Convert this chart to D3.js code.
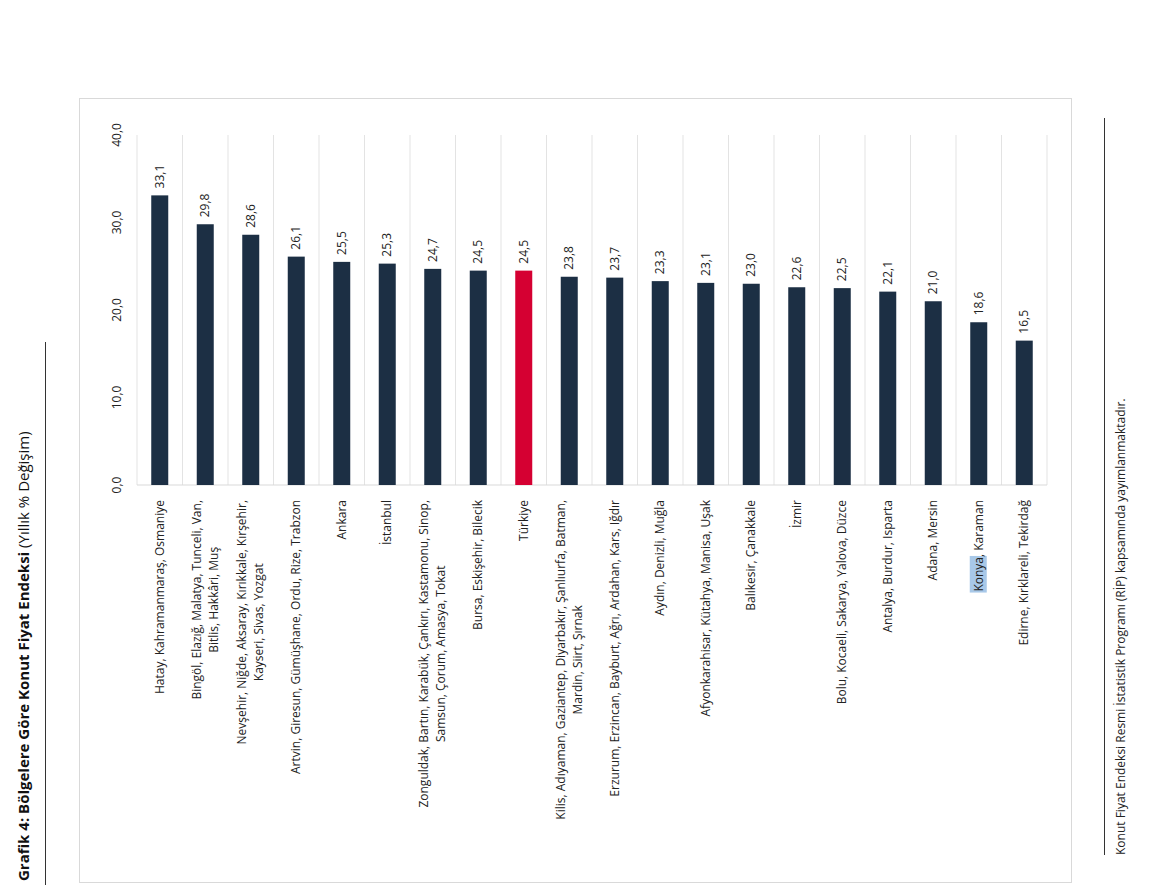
<!DOCTYPE html>
<html lang="tr">
<head>
<meta charset="UTF-8">
<style>
  body { margin: 0; background: #fff; }
  svg { font-family: "Open Sans", sans-serif; }
</style>
</head>
<body>
<script src="https://d3js.org/d3.v7.min.js"></script>
<script>
const regions = [
  ["Hatay, Kahramanmaraş, Osmaniye"],
  ["Bingöl, Elazığ, Malatya, Tunceli, Van,", "Bitlis, Hakkâri, Muş"],
  ["Nevşehir, Niğde, Aksaray, Kırıkkale, Kırşehir,", "Kayseri, Sivas, Yozgat"],
  ["Artvin, Giresun, Gümüşhane, Ordu, Rize, Trabzon"],
  ["Ankara"],
  ["İstanbul"],
  ["Zonguldak, Bartın, Karabük, Çankırı, Kastamonu, Sinop,", "Samsun, Çorum, Amasya, Tokat"],
  ["Bursa, Eskişehir, Bilecik"],
  ["Türkiye"],
  ["Kilis, Adıyaman, Gaziantep, Diyarbakır, Şanlıurfa, Batman,", "Mardin, Siirt, Şırnak"],
  ["Erzurum, Erzincan, Bayburt, Ağrı, Ardahan, Kars, Iğdır"],
  ["Aydın, Denizli, Muğla"],
  ["Afyonkarahisar, Kütahya, Manisa, Uşak"],
  ["Balıkesir, Çanakkale"],
  ["İzmir"],
  ["Bolu, Kocaeli, Sakarya, Yalova, Düzce"],
  ["Antalya, Burdur, Isparta"],
  ["Adana, Mersin"],
  ["Konya, Karaman"],
  ["Edirne, Kırklareli, Tekirdağ"]
];
const values = [33.1, 29.8, 28.6, 26.1, 25.5, 25.3, 24.7, 24.5, 24.5, 23.8, 23.7, 23.3, 23.1, 23.0, 22.6, 22.5, 22.1, 21.0, 18.6, 16.5];
const yTicks = [0, 10, 20, 30, 40];
const title = "Grafik 4: Bölgelere Göre Konut Fiyat Endeksi";
const titleSub = " (Yıllık % Değişim)";
const note = "Konut Fiyat Endeksi Resmi İstatistik Programı (RİP) kapsamında yayımlanmaktadır.";

const W = 1151, H = 889;
const svg = d3.select("body").append("svg").attr("width", W).attr("height", H);
const fmt = v => v.toFixed(1).replace(".", ",");

svg.append("rect").attr("x", 79.5).attr("y", 98.5).attr("width", 992).attr("height", 784)
  .attr("fill", "none").attr("stroke", "#d9d9d9");

const x = d3.scaleBand().domain(d3.range(values.length)).range([137, 1047]).paddingInner(0.62).paddingOuter(0.31);
const y = d3.scaleLinear().domain([0, 40]).range([485, 135]);
const step = x.step();

// vertical gridlines between categories
svg.append("g").selectAll("line").data(d3.range(values.length + 1)).join("line")
  .attr("x1", i => 137 + i * (910 / values.length)).attr("x2", i => 137 + i * (910 / values.length))
  .attr("y1", y(40)).attr("y2", y(0)).attr("stroke", "#e3e3e3");
svg.append("line").attr("x1", 137).attr("x2", 1047).attr("y1", y(0)).attr("y2", y(0)).attr("stroke", "#d9d9d9");

// y tick labels (rotated)
svg.append("g").selectAll("text").data(yTicks).join("text")
  .attr("transform", d => `translate(121,${y(d)}) rotate(-90)`)
  .attr("text-anchor", "middle").attr("font-size", 12).attr("fill", "#222")
  .text(fmt);

const bw = 17;
const cx = i => x(i) + x.bandwidth() / 2;
svg.append("g").selectAll("rect").data(values).join("rect")
  .attr("x", (d, i) => cx(i) - bw / 2).attr("width", bw)
  .attr("y", d => y(d)).attr("height", d => y(0) - y(d))
  .attr("fill", (d, i) => regions[i][0] === "Türkiye" ? "#d50032" : "#1c2f44");

svg.append("g").selectAll("text").data(values).join("text")
  .attr("transform", (d, i) => `translate(${cx(i) + 4},${y(d) - 7}) rotate(-90)`)
  .attr("font-size", 12).attr("fill", "#222").text(fmt);

// category labels
const lab = svg.append("g");
regions.forEach((lines, i) => {
  const g = lab.append("g");
  const texts = lines.map((t, k) => g.append("text").attr("font-size", 12).attr("fill", "#222")
    .attr("text-anchor", "middle").text(t));
  const maxLen = d3.max(texts, t => t.node().getComputedTextLength());
  const off = (lines.length - 1) * 8.5;
  texts.forEach((t, k) => {
    const lx = cx(i) + 4 - off + k * 17;
    t.attr("transform", `translate(${lx},${500 + maxLen / 2}) rotate(-90)`);
  });
  if (lines[0].startsWith("Konya")) {
    const tmp = g.append("text").attr("font-size", 12).text("Konya");
    const w = tmp.node().getComputedTextLength(); tmp.remove();
    g.insert("rect", "text").attr("x", cx(i) - 9).attr("y", 500 + maxLen - w - 1)
      .attr("width", 17).attr("height", w + 2).attr("fill", "#a8c8e8");
  }
});

// title
const tt = svg.append("text").attr("transform", "translate(29,881) rotate(-90)").attr("font-size", 15).attr("fill", "#111");
tt.append("tspan").attr("font-weight", "bold").text(title);
tt.append("tspan").text(titleSub);
svg.append("line").attr("x1", 45.5).attr("x2", 45.5).attr("y1", 342).attr("y2", 885).attr("stroke", "#333");

// note
svg.append("text").attr("transform", "translate(1125,855) rotate(-90)").attr("font-size", 12).attr("fill", "#222").text(note);
svg.append("line").attr("x1", 1104.5).attr("x2", 1104.5).attr("y1", 118).attr("y2", 855).attr("stroke", "#333");
</script>
</body>
</html>
